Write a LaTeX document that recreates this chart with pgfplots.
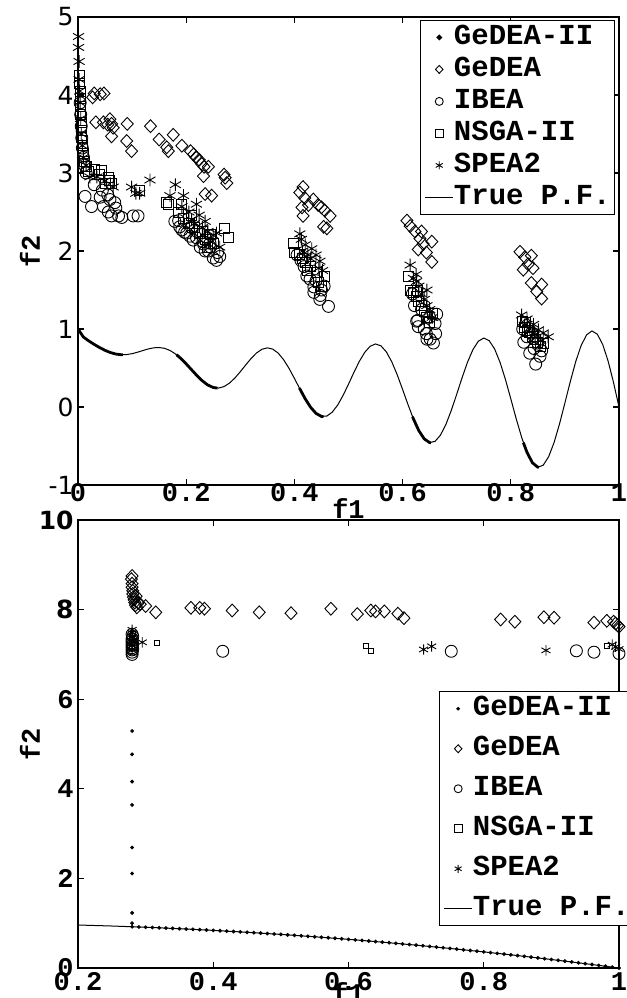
\documentclass[border=0pt]{standalone}
\usepackage{pgfplots}
\pgfplotsset{compat=1.18}
\usepackage{fontspec}
\setmainfont{Liberation Mono}
\newfontfamily\sansf{DejaVu Sans}
\newcommand{\monof}{\fontsize{13.5}{14}\selectfont\bfseries}
\newcommand{\sanst}{\sansf\fontsize{12.5}{13}\selectfont}
\pgfplotsset{
  myaxis/.style={
    scale only axis, width=270.5pt,
    axis line style={line width=1pt},
    every tick/.style={line width=0.6pt, black},
    major tick length=3pt,
    tick align=inside,
    /pgf/number format/assume math mode=true,
    tick label style={font=\monof},
    yticklabel style={inner sep=1pt, xshift=-1pt},
    every axis y label/.style={at={(rel axis cs:0,0.5)}, anchor=center, xshift=-24pt, rotate=90, font=\monof},
    legend cell align=left,
    legend style={font=\fontsize{14.5}{14.5}\selectfont\bfseries, draw=black, line width=0.6pt, inner sep=2pt,
      nodes={inner sep=0pt, text height=10pt, text depth=3pt}},
    legend image code/.code={\draw[mark repeat=2,mark phase=2] plot coordinates {(0cm,0cm) (0.25cm,0cm) (0.5cm,0cm)};},
    legend image post style={mark size=2pt},
  },
  gd/.style={black, only marks, mark=diamond, mark size=3.2pt, mark options={xscale=1.25, line width=0.45pt, fill=none}},
  ib/.style={black, only marks, mark=o, mark size=3pt, mark options={line width=0.45pt}},
  ns/.style={black, only marks, mark=square, mark size=2.5pt, mark options={line width=0.45pt}},
  sp/.style={black, only marks, mark=asterisk, mark size=3.2pt, mark options={line width=0.45pt}},
  dotleg/.style={legend image code/.code={\fill (0.25cm,0cm) circle (0.55pt);}},
}
\begin{document}
\begin{tikzpicture}
\useasboundingbox (0,0) rectangle (313.5pt,-499pt);
% ---------------- top panel ----------------
\begin{axis}[myaxis, at={(39pt,-242.5pt)}, anchor=south west, height=234pt,
  xmin=0, xmax=1, ymin=-1, ymax=5,
  xtick={0,0.2,0.4,0.6,0.8,1}, ytick={-1,0,1,2,3,4,5},
  xticklabel style={inner sep=0pt, yshift=1pt},
  yticklabel style={font=\sanst},
  xlabel={f1}, ylabel={f2},
  every axis x label/.style={at={(rel axis cs:0.5,0)}, anchor=center, yshift=-12pt, font=\monof},
  legend style={at={(rel axis cs:0.993,0.994)}, anchor=north east, row sep=3pt},
  unbounded coords=jump]
\addplot[black, line width=1.4pt, dotleg] coordinates {
(0,1) (0.01,0.8969) (0.02,0.846823) (0.03,0.802524) (0.04,0.761958) (0.05,0.726393) (0.06,0.697988) (0.07,0.678794) (0.08,0.670134) (0.083,0.669653)
(0.1,nan)
(0.1822,0.66981) (0.19,0.622823) (0.20,0.552786) (0.21,0.476848) (0.22,0.401645) (0.23,0.334343) (0.24,0.281848) (0.25,0.25) (0.2578,0.242162)
(0.3,nan)
(0.4093,0.242347) (0.41,0.232991) (0.42,0.105056) (0.43,-0.003621) (0.44,-0.08179) (0.45,-0.12082) (0.4539,-0.124217)
(0.5,nan)
(0.6184,-0.124315) (0.62,-0.151828) (0.63,-0.303406) (0.64,-0.408676) (0.65,-0.456226) (0.6525,-0.458263)
(0.7,nan)
(0.8233,-0.457686) (0.83,-0.582527) (0.84,-0.715403) (0.85,-0.771954) (0.8518,-0.773369)
};
\addlegendentry{GeDEA-II}
\addplot[gd] coordinates {
(0.027,3.97) (0.030,4.02) (0.041,4.01) (0.048,4.02)
(0.033,3.65) (0.047,3.65) (0.059,3.69) (0.062,3.63) (0.065,3.58) (0.062,3.47) (0.055,3.62)
(0.091,3.63) (0.090,3.41) (0.099,3.28) (0.134,3.60) (0.150,3.43) (0.164,3.33) (0.176,3.49)
(0.192,3.35) (0.167,3.28) (0.208,3.28) (0.214,3.24) (0.224,3.17) (0.233,3.08) (0.241,3.08)
(0.232,2.96) (0.235,2.73) (0.247,2.71) (0.270,2.98) (0.275,2.87) (0.272,2.94) (0.218,3.20) (0.228,3.12)
(0.410,2.75) (0.416,2.82) (0.419,2.68) (0.414,2.56) (0.416,2.45) (0.426,2.59) (0.435,2.66) (0.444,2.59)
(0.450,2.56) (0.456,2.52) (0.466,2.45) (0.454,2.31) (0.460,2.29)
(0.608,2.39) (0.614,2.32) (0.623,2.25) (0.632,2.16) (0.635,2.25) (0.638,2.09) (0.629,2.02) (0.644,1.98) (0.654,2.12) (0.654,1.86)
(0.817,1.99) (0.826,1.92) (0.838,1.94) (0.832,1.83) (0.841,1.78) (0.823,1.76) (0.838,1.59) (0.857,1.57) (0.848,1.48) (0.857,1.39)
};
\addlegendentry{GeDEA}
\addplot[ib] coordinates {
(0.004,3.9) (0.005,3.75) (0.006,3.6) (0.007,3.45) (0.008,3.32) (0.010,3.2) (0.012,3.1) (0.015,3.0)
(0.013,2.70) (0.025,2.57) (0.041,2.69) (0.047,2.57) (0.059,2.66) (0.062,2.45) (0.056,2.50) (0.068,2.62)
(0.075,2.45) (0.081,2.43) (0.102,2.45) (0.111,2.45) (0.030,2.85) (0.045,2.78) (0.055,2.72) (0.070,2.55)
(0.179,2.38) (0.188,2.31) (0.197,2.24) (0.207,2.19) (0.219,2.17) (0.231,2.12) (0.244,2.10) (0.186,2.39)
(0.192,2.27) (0.201,2.23) (0.213,2.14) (0.226,2.05) (0.235,2.00) (0.250,1.91) (0.262,1.93) (0.232,2.09)
(0.241,2.00) (0.256,1.88) (0.258,1.98) (0.220,2.25) (0.210,2.30) (0.245,2.05)
(0.405,1.95) (0.412,1.88) (0.418,1.80) (0.423,1.68) (0.429,1.64) (0.436,1.54) (0.436,1.47) (0.448,1.43)
(0.447,1.38) (0.450,1.50) (0.463,1.29) (0.440,1.62) (0.455,1.55)
(0.618,1.45) (0.622,1.30) (0.626,1.10) (0.629,1.03) (0.628,1.11) (0.635,1.25) (0.644,0.94) (0.645,0.87)
(0.651,0.87) (0.657,0.82) (0.661,0.94) (0.663,1.19) (0.660,1.07) (0.640,1.00) (0.650,1.15)
(0.822,1.00) (0.824,0.83) (0.830,0.90) (0.835,0.69) (0.846,0.55) (0.854,0.65) (0.843,0.75) (0.850,0.82) (0.838,0.95) (0.857,0.72)
};
\addlegendentry{IBEA}
\addplot[ns] coordinates {
(0.003,4.25) (0.003,4.15) (0.004,4.05) (0.004,3.95) (0.005,3.85) (0.005,3.75) (0.006,3.65) (0.006,3.55)
(0.007,3.45) (0.008,3.35) (0.010,3.25) (0.012,3.15) (0.015,3.08)
(0.020,3.02) (0.030,3.05) (0.044,3.03) (0.050,2.87) (0.059,2.91) (0.061,2.87) (0.056,2.94) (0.040,2.98) (0.113,2.78)
(0.164,2.62) (0.167,2.60) (0.192,2.60) (0.185,2.50) (0.195,2.42) (0.205,2.35) (0.215,2.30) (0.225,2.22)
(0.235,2.15) (0.244,2.21) (0.270,2.29) (0.278,2.17) (0.250,2.10) (0.240,2.05) (0.230,2.25) (0.210,2.45)
(0.398,2.10) (0.401,1.98) (0.410,1.95) (0.415,1.90) (0.420,1.85) (0.430,1.80) (0.440,1.72) (0.455,1.68)
(0.445,1.60) (0.450,1.55) (0.425,1.75)
(0.611,1.68) (0.620,1.47) (0.625,1.42) (0.630,1.35) (0.635,1.30) (0.640,1.22) (0.645,1.15) (0.650,1.08)
(0.655,1.20) (0.628,1.50) (0.615,1.50)
(0.822,1.10) (0.826,1.02) (0.830,0.98) (0.835,0.95) (0.840,0.90) (0.845,0.86) (0.850,0.83) (0.861,0.81) (0.855,0.78) (0.828,1.08)
};
\addlegendentry{NSGA-II}
\addplot[sp] coordinates {
(0.001,4.75) (0.001,4.61) (0.002,4.43) (0.002,4.20) (0.003,4.05) (0.004,3.90) (0.005,3.70) (0.006,3.50)
(0.008,3.35) (0.010,3.20) (0.015,3.10)
(0.022,2.95) (0.035,2.95) (0.050,2.90) (0.065,2.82) (0.099,2.82) (0.107,2.74) (0.114,2.74) (0.133,2.91)
(0.170,2.71) (0.180,2.85) (0.195,2.71) (0.192,2.57) (0.219,2.60) (0.224,2.46) (0.205,2.50) (0.210,2.40)
(0.215,2.35) (0.230,2.30) (0.240,2.25) (0.250,2.20) (0.256,2.23) (0.262,2.05) (0.235,2.38) (0.245,2.12)
(0.410,2.22) (0.413,2.15) (0.420,2.08) (0.432,2.03) (0.440,1.95) (0.447,1.87) (0.430,1.90) (0.445,1.78)
(0.452,1.75) (0.415,2.00) (0.425,1.95)
(0.614,1.82) (0.626,1.61) (0.620,1.65) (0.630,1.55) (0.635,1.45) (0.640,1.38) (0.645,1.30) (0.650,1.25)
(0.655,1.15) (0.645,1.50) (0.625,1.70)
(0.820,1.18) (0.830,1.13) (0.842,1.06) (0.851,0.99) (0.869,0.90) (0.825,1.05) (0.835,1.00) (0.845,0.93) (0.855,0.85) (0.860,0.95)
};
\addlegendentry{SPEA2}
\addplot[black, line width=0.5pt] coordinates {
(0,1) (0.01,0.8969) (0.02,0.846823) (0.03,0.802524) (0.04,0.761958) (0.05,0.726393) (0.06,0.697988) (0.07,0.678794) (0.08,0.670134) (0.09,0.672188)
(0.10,0.683772) (0.11,0.70233) (0.12,0.724124) (0.13,0.744617) (0.14,0.758982) (0.15,0.762702) (0.16,0.752169) (0.17,0.725222) (0.18,0.681537) (0.19,0.622823)
(0.20,0.552786) (0.21,0.476848) (0.22,0.401645) (0.23,0.334343) (0.24,0.281848) (0.25,0.25) (0.26,0.242823) (0.27,0.26195) (0.28,0.30627) (0.29,0.371869)
(0.30,0.452277) (0.31,0.539019) (0.32,0.622406) (0.33,0.69252) (0.34,0.740264) (0.35,0.758392) (0.36,0.742381) (0.37,0.69106) (0.38,0.606917) (0.39,0.496017)
(0.40,0.367544) (0.41,0.232991) (0.42,0.105056) (0.43,-0.003621) (0.44,-0.08179) (0.45,-0.12082) (0.46,-0.115719) (0.47,-0.065803) (0.48,0.025043) (0.49,0.148582)
(0.50,0.292893) (0.51,0.443456) (0.52,0.584538) (0.53,0.700768) (0.54,0.778724) (0.55,0.80838) (0.56,0.784261) (0.57,0.706157) (0.58,0.579338) (0.59,0.414205)
(0.60,0.225403) (0.61,0.030475) (0.62,-0.151828) (0.63,-0.303406) (0.64,-0.408676) (0.65,-0.456226) (0.66,-0.440102) (0.67,-0.360576) (0.68,-0.224315) (0.69,-0.043884)
(0.70,0.16334) (0.71,0.376787) (0.72,0.574677) (0.73,0.736182) (0.74,0.843549) (0.75,0.883975) (0.76,0.851023) (0.77,0.745447) (0.78,0.575296) (0.79,0.355304)
(0.80,0.105573) (0.81,-0.150304) (0.82,-0.387523) (0.83,-0.582527) (0.84,-0.715403) (0.85,-0.771954) (0.86,-0.745271) (0.87,-0.636583) (0.88,-0.455334) (0.89,-0.218423)
(0.90,0.051317) (0.91,0.327266) (0.92,0.581596) (0.93,0.788021) (0.94,0.924458) (0.95,0.975321) (0.96,0.933219) (0.97,0.79986) (0.98,0.58608) (0.99,0.31094) (1.00,0)
};
\addlegendentry{True P.F.}
\end{axis}
% ---------------- bottom panel ----------------
\begin{axis}[myaxis, at={(39pt,-484pt)}, anchor=south west, height=224pt,
  xmin=0.2, xmax=1, ymin=0, ymax=10,
  xtick={0.2,0.4,0.6,0.8,1}, ytick={0,2,4,6,8,10},
  xticklabel style={inner sep=0pt, yshift=-2pt},
  yticklabels={0,2,4,6,{\sanst 8},{\sanst 10}},
  xlabel={f1}, ylabel={f2},
  every axis x label/.style={at={(rel axis cs:0.5,0)}, anchor=center, yshift=-12.5pt, font=\monof},
  legend style={at={(rel axis cs:0.667,0.618)}, anchor=north west, row sep=7pt}]
\addplot[black, only marks, mark=*, mark size=0.75pt, dotleg] coordinates {
(0.28,5.29) (0.28,4.77) (0.28,4.16) (0.28,3.64) (0.28,2.69) (0.28,2.11) (0.28,1.23) (0.28,1.00)
(0.28,0.9216) (0.29,0.9159) (0.30,0.91) (0.31,0.9039) (0.32,0.8976) (0.33,0.8911) (0.34,0.8844) (0.35,0.8775)
(0.36,0.8704) (0.37,0.8631) (0.38,0.8556) (0.39,0.8479) (0.40,0.84) (0.41,0.8319) (0.42,0.8236) (0.43,0.8151)
(0.44,0.8064) (0.45,0.7975) (0.46,0.7884) (0.47,0.7791) (0.48,0.7696) (0.49,0.7599) (0.50,0.75) (0.51,0.7399)
(0.52,0.7296) (0.53,0.7191) (0.54,0.7084) (0.55,0.6975) (0.56,0.6864) (0.57,0.6751) (0.58,0.6636) (0.59,0.6519)
(0.60,0.64) (0.61,0.6279) (0.62,0.6156) (0.63,0.6031) (0.64,0.5904) (0.65,0.5775) (0.66,0.5644) (0.67,0.5511)
(0.68,0.5376) (0.69,0.5239) (0.70,0.51) (0.71,0.4959) (0.72,0.4816) (0.73,0.4671) (0.74,0.4524) (0.75,0.4375)
(0.76,0.4224) (0.77,0.4071) (0.78,0.3916) (0.79,0.3759) (0.80,0.36) (0.81,0.3439) (0.82,0.3276) (0.83,0.3111)
(0.84,0.2944) (0.85,0.2775) (0.86,0.2604) (0.87,0.2431) (0.88,0.2256) (0.89,0.2079) (0.90,0.19) (0.91,0.1719)
(0.92,0.1536) (0.93,0.1351) (0.94,0.1164) (0.95,0.0975) (0.96,0.0784) (0.97,0.0591) (0.98,0.0396) (0.99,0.0199) (1.00,0)
};
\addlegendentry{GeDEA-II}
\addplot[gd] coordinates {
(0.280,8.75) (0.279,8.68) (0.280,8.58) (0.280,8.50) (0.281,8.42) (0.281,8.35) (0.282,8.28) (0.283,8.22)
(0.284,8.16) (0.285,8.10) (0.287,8.05) (0.289,8.15) (0.292,8.12) (0.286,8.30) (0.300,8.08) (0.315,7.94)
(0.367,8.04) (0.380,8.04) (0.387,8.02) (0.428,7.98) (0.468,7.94) (0.515,7.92) (0.574,8.02) (0.613,7.90)
(0.633,7.98) (0.640,7.96) (0.653,7.96) (0.673,7.91) (0.682,7.81) (0.825,7.78) (0.846,7.73) (0.889,7.83)
(0.904,7.82) (0.963,7.71) (0.982,7.75) (0.992,7.73) (0.995,7.69) (0.998,7.65) (1.000,7.62)
};
\addlegendentry{GeDEA}
\addplot[ib] coordinates {
(0.280,7.00) (0.280,7.05) (0.280,7.10) (0.280,7.15) (0.280,7.20) (0.280,7.25) (0.280,7.30) (0.280,7.35)
(0.281,7.40) (0.280,7.45) (0.281,7.12) (0.281,7.22)
(0.414,7.07) (0.752,7.07) (0.937,7.08) (0.963,7.05) (1.000,7.02)
};
\addlegendentry{IBEA}
\addplot[ns, mark size=1.2pt] coordinates {
(0.280,7.15) (0.280,7.25) (0.280,7.35) (0.281,7.45)
(0.317,7.25) (0.626,7.19) (0.633,7.08) (0.982,7.18)
};
\addlegendentry{NSGA-II}
\addplot[sp, mark size=2.6pt] coordinates {
(0.280,7.10) (0.280,7.20) (0.280,7.30) (0.280,7.40) (0.280,7.48) (0.280,7.55) (0.283,7.30)
(0.295,7.27) (0.711,7.11) (0.723,7.18) (0.892,7.09) (0.995,7.17) (1.000,7.12) (0.990,7.22)
};
\addlegendentry{SPEA2}
\addplot[black, line width=0.5pt] coordinates {
(0.20,0.96) (0.25,0.9375) (0.30,0.91) (0.35,0.8775) (0.40,0.84) (0.45,0.7975) (0.50,0.75) (0.55,0.6975)
(0.60,0.64) (0.65,0.5775) (0.70,0.51) (0.75,0.4375) (0.80,0.36) (0.85,0.2775) (0.90,0.19) (0.95,0.0975) (1.00,0)
};
\addlegendentry{True P.F.}
\end{axis}
\end{tikzpicture}
\end{document}
